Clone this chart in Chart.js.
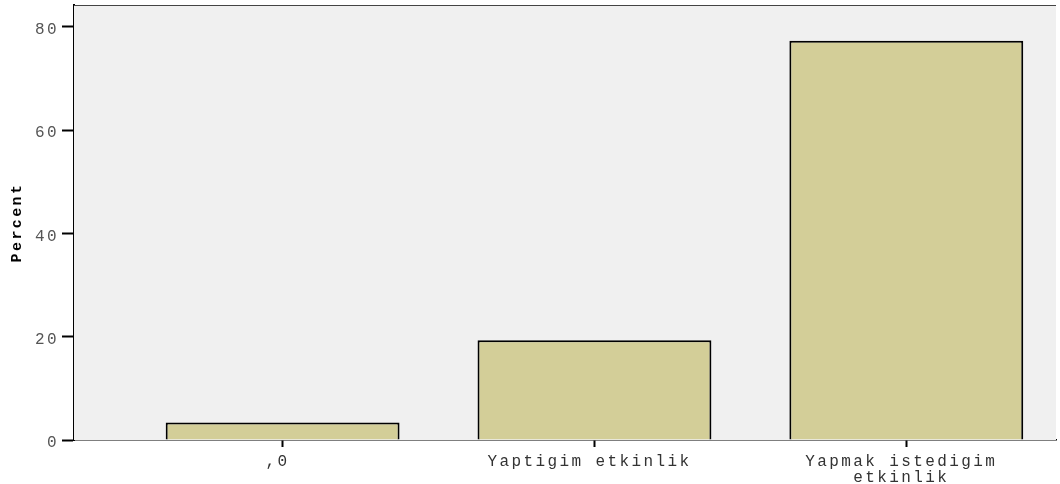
<!DOCTYPE html>
<html>
<head>
<meta charset="utf-8">
<script src="https://cdn.jsdelivr.net/npm/chart.js@4/dist/chart.umd.min.js"></script>
<style>
  body { margin: 0; background: #fff; }
  canvas { display: block; }
</style>
</head>
<body>
<canvas id="grafico" width="1060" height="484"></canvas>
<script>
// categorias y valores
const categorias = [',0', 'Yaptigim etkinlik', ['Yapmak istedigim', 'etkinlik']];
const porcentajes = [3.4, 19.3, 77.3];
const ticksY = [0, 20, 40, 60, 80];

const fuente = 'Liberation Mono, Courier New, monospace';

// espaciado entre letras como en el original
const espaciado = {
  id: 'espaciado',
  beforeUpdate(chart) { chart.ctx.letterSpacing = '2.4px'; },
  beforeDraw(chart) { chart.ctx.letterSpacing = '2.4px'; }
};

// fondo gris del area y linea superior
const fondo = {
  id: 'fondo',
  beforeDatasetsDraw(chart) {
    const { ctx, chartArea: a } = chart;
    ctx.save();
    ctx.fillStyle = '#f0f0f0';
    ctx.fillRect(a.left, a.top, a.right - a.left, a.bottom - a.top);
    ctx.strokeStyle = '#444';
    ctx.lineWidth = 1;
    ctx.beginPath();
    ctx.moveTo(a.left, a.top + 0.5);
    ctx.lineTo(a.right, a.top + 0.5);
    ctx.stroke();
    ctx.restore();
  }
};

const ctx = document.getElementById('grafico').getContext('2d');
new Chart(ctx, {
  type: 'bar',
  data: {
    datasets: [{
      label: 'Percent',
      data: porcentajes.map((v, i) => ({ x: i, y: v })),
      backgroundColor: '#d3ce98',
      borderColor: '#000',
      borderWidth: 2,
      barPercentage: 0.75,
      categoryPercentage: 1
    }]
  },
  options: {
    responsive: false,
    animation: false,
    layout: { padding: { top: 5, right: 4, left: 0, bottom: 0 } },
    plugins: {
      legend: { display: false },
      tooltip: { enabled: false }
    },
    scales: {
      x: {
        type: 'linear',
        offset: false,
        min: -0.669,
        max: 2.48,
        afterBuildTicks: (scale) => { scale.ticks = categorias.map((c, i) => ({ value: i })); },
        afterFit: (scale) => {
          scale.height = 44;
          scale.paddingLeft = 0;
          scale.paddingRight = 0;
        },
        grid: { offset: false, drawOnChartArea: false, tickLength: 7, tickWidth: 2, tickColor: '#000' },
        border: { color: '#000', width: 1.5 },
        ticks: {
          callback: (v) => categorias[v],
          color: '#333',
          padding: 7,
          labelOffset: -5,
          maxRotation: 0,
          autoSkip: false,
          font: { family: fuente, size: 16, lineHeight: 1.0 }
        }
      },
      y: {
        min: 0,
        max: 84.2,
        afterBuildTicks: (scale) => { scale.ticks = ticksY.map(v => ({ value: v })); },
        afterFit: (scale) => {
          scale.width = 74;
          scale.paddingTop = 0;
          scale.paddingBottom = 0;
        },
        grid: { drawOnChartArea: false, tickLength: 12, tickWidth: 2, tickColor: '#000' },
        border: { color: '#000', width: 2 },
        ticks: {
          color: '#555',
          padding: 3,
          labelOffset: 3,
          font: { family: fuente, size: 16 }
        },
        title: {
          display: true,
          text: 'Percent',
          color: '#000',
          padding: { top: 8, bottom: 0 },
          font: { family: fuente, size: 15, weight: 'bold' }
        }
      }
    }
  },
  plugins: [espaciado, fondo]
});
</script>
</body>
</html>
